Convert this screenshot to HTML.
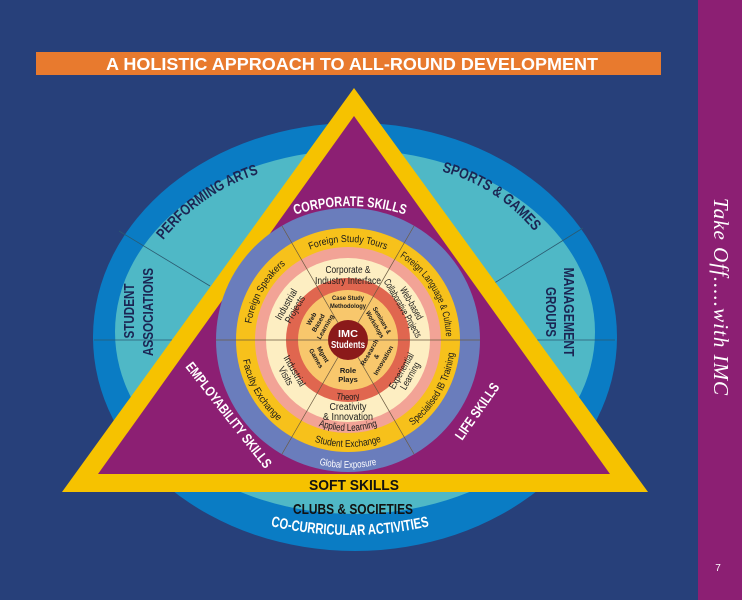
<!DOCTYPE html>
<html><head><meta charset="utf-8"><style>
html,body{margin:0;padding:0;background:#27407a;}
svg{display:block}
.n{font-family:"Liberation Sans",sans-serif;}
.b{font-family:"Liberation Sans",sans-serif;font-weight:bold;}
</style></head><body>
<svg width="742" height="600" viewBox="0 0 742 600" xmlns="http://www.w3.org/2000/svg">
<rect width="742" height="600" fill="#27407a"/>
<rect x="698" y="0" width="44" height="600" fill="#8c1f73"/>
<text transform="translate(714,297) rotate(90)" text-anchor="middle" font-family="Liberation Serif,serif" font-style="italic" font-size="21" fill="#fff" letter-spacing="1">Take  Off.....with  IMC</text>
<text x="718" y="571" font-family="Liberation Sans,sans-serif" font-size="10" fill="#fff" text-anchor="middle">7</text>

<rect x="36" y="52" width="625" height="23" fill="#e87a2e"/>
<text x="352" y="70" text-anchor="middle" class="b" font-size="17.5" fill="#fff" textLength="492" lengthAdjust="spacingAndGlyphs">A HOLISTIC APPROACH TO ALL-ROUND DEVELOPMENT</text>

<ellipse cx="355" cy="337" rx="262" ry="214" fill="#0a7cc4"/>
<ellipse cx="355" cy="332" rx="240" ry="182" fill="#4fb8c6"/>
<line x1="119" y1="231" x2="210" y2="286" stroke="#2b5a70" stroke-width="0.8"/>
<line x1="583" y1="228" x2="488" y2="287" stroke="#2b5a70" stroke-width="0.8"/>
<line x1="94" y1="340" x2="615" y2="340" stroke="#2b5a70" stroke-width="0.8"/>

<defs>
<path id="pa" d="M150,258 Q198,186 280,168"/>
<path id="sg" d="M425,168 Q498,180 545,245"/>
<path id="cs" d="M275,222 Q350,190 425,222"/>
<path id="cc" d="M240,518 Q350,552 460,518"/>
<path id="y0" d="M-49,-84.9 A98,98 0 0 1 49,-84.9"/>
<path id="y1" d="M49,-84.9 A98,98 0 0 1 98,0"/>
<path id="y5" d="M-98,0 A98,98 0 0 1 -49,-84.9"/>
<path id="y3" d="M-53.5,92.7 A107,107 0 0 0 53.5,92.7"/>
<path id="y2" d="M53.5,92.7 A107,107 0 0 0 107,0"/>
<path id="y4" d="M-107,0 A107,107 0 0 0 -53.5,92.7"/>
<path id="gl" d="M-64,110.8 A128,128 0 0 0 64,110.8"/>
<path id="al" d="M-45.5,78.8 A91,91 0 0 0 45.5,78.8"/>
<path id="th" d="M-30,52 A60,60 0 0 0 30,52"/>
</defs>
<text class="b" font-size="15" fill="#1b2553"><textPath href="#pa" startOffset="50%" text-anchor="middle" textLength="118" lengthAdjust="spacingAndGlyphs">PERFORMING ARTS</textPath></text>
<text class="b" font-size="15" fill="#1b2553"><textPath href="#sg" startOffset="50%" text-anchor="middle" textLength="112" lengthAdjust="spacingAndGlyphs">SPORTS &amp; GAMES</textPath></text>
<text transform="translate(134,311) rotate(-90)" text-anchor="middle" class="b" font-size="15" fill="#1b2553" textLength="55" lengthAdjust="spacingAndGlyphs">STUDENT</text>
<text transform="translate(153,312) rotate(-90)" text-anchor="middle" class="b" font-size="15" fill="#1b2553" textLength="88" lengthAdjust="spacingAndGlyphs">ASSOCIATIONS</text>
<text transform="translate(564,312) rotate(90)" text-anchor="middle" class="b" font-size="15" fill="#1b2553" textLength="89" lengthAdjust="spacingAndGlyphs">MANAGEMENT</text>
<text transform="translate(546,312) rotate(90)" text-anchor="middle" class="b" font-size="15" fill="#1b2553" textLength="50" lengthAdjust="spacingAndGlyphs">GROUPS</text>

<polygon points="354,88 62,492 648,492" fill="#f6c200"/>
<polygon points="354,116 98,474 610,474" fill="#8c1f73"/>
<text x="354" y="490" text-anchor="middle" class="b" font-size="15" fill="#111" textLength="90" lengthAdjust="spacingAndGlyphs">SOFT SKILLS</text>
<text x="353" y="514" text-anchor="middle" class="b" font-size="15" fill="#111" textLength="120" lengthAdjust="spacingAndGlyphs">CLUBS &amp; SOCIETIES</text>
<text class="b" font-size="15" fill="#fff"><textPath href="#cc" startOffset="50%" text-anchor="middle" textLength="160" lengthAdjust="spacingAndGlyphs">CO-CURRICULAR ACTIVITIES</textPath></text>
<text class="b" font-size="14" fill="#fff"><textPath href="#cs" startOffset="50%" text-anchor="middle" textLength="112" lengthAdjust="spacingAndGlyphs">CORPORATE SKILLS</textPath></text>
<text transform="translate(225,418) rotate(52)" text-anchor="middle" class="b" font-size="14" fill="#fff" textLength="130" lengthAdjust="spacingAndGlyphs">EMPLOYABILITY SKILLS</text>
<text transform="translate(481,414) rotate(-55)" text-anchor="middle" class="b" font-size="14" fill="#fff" textLength="66" lengthAdjust="spacingAndGlyphs">LIFE SKILLS</text>

<g transform="translate(348,340)">
<circle r="132" fill="#6a7dbc"/>
<circle r="112" fill="#f7c11b"/>
<circle r="93" fill="#f2a396"/>
<circle r="82" fill="#fdeec2"/>
<circle r="62" fill="#e0664f"/>
<circle r="50" fill="#f8c76c"/>
<g stroke="#6b5a40" stroke-width="0.7">
<line x1="-66" y1="-114" x2="66" y2="114"/>
<line x1="66" y1="-114" x2="-66" y2="114"/>
<line x1="-132" y1="0" x2="132" y2="0"/>
</g>
<circle r="20" fill="#8b1a1a"/>
<text y="-3" text-anchor="middle" class="b" font-size="10" fill="#fff" textLength="20" lengthAdjust="spacingAndGlyphs">IMC</text>
<text y="8" text-anchor="middle" class="b" font-size="10" fill="#fff" textLength="34" lengthAdjust="spacingAndGlyphs">Students</text>

<g class="n" font-size="10" fill="#1a1a1a">
<text><textPath href="#y0" startOffset="50%" text-anchor="middle" textLength="78" lengthAdjust="spacingAndGlyphs">Foreign Study Tours</textPath></text>
<text><textPath href="#y1" startOffset="50%" text-anchor="middle" textLength="96" lengthAdjust="spacingAndGlyphs">Foreign Language &amp; Culture</textPath></text>
<text><textPath href="#y5" startOffset="50%" text-anchor="middle" textLength="70" lengthAdjust="spacingAndGlyphs">Foreign Speakers</textPath></text>
<text><textPath href="#y2" startOffset="50%" text-anchor="middle" textLength="86" lengthAdjust="spacingAndGlyphs">Specialised IB Training</textPath></text>
<text><textPath href="#y4" startOffset="50%" text-anchor="middle" textLength="72" lengthAdjust="spacingAndGlyphs">Faculty Exchange</textPath></text>
<text><textPath href="#y3" startOffset="50%" text-anchor="middle" textLength="68" lengthAdjust="spacingAndGlyphs">Student Exchange</textPath></text>
<text fill="#fff"><textPath href="#gl" startOffset="50%" text-anchor="middle" textLength="58" lengthAdjust="spacingAndGlyphs">Global Exposure</textPath></text>
<text><textPath href="#al" startOffset="50%" text-anchor="middle" textLength="60" lengthAdjust="spacingAndGlyphs">Applied Learning</textPath></text>
<text font-size="9"><textPath href="#th" startOffset="50%" text-anchor="middle" textLength="24" lengthAdjust="spacingAndGlyphs">Theory</textPath></text>
</g>
<g class="n" font-size="10" fill="#1a1a1a" text-anchor="middle">
<text y="-67" textLength="45" lengthAdjust="spacingAndGlyphs">Corporate &amp;</text>
<text y="-56" textLength="66" lengthAdjust="spacingAndGlyphs">Industry Interface</text>
<text transform="rotate(60) translate(0,-70)" textLength="36" lengthAdjust="spacingAndGlyphs">Web-based</text>
<text transform="rotate(60) translate(0,-60)" textLength="66" lengthAdjust="spacingAndGlyphs">Collaborative Projects</text>
<text transform="rotate(-60) translate(0,-68)" textLength="34" lengthAdjust="spacingAndGlyphs">Industrial</text>
<text transform="rotate(-60) translate(0,-58)" textLength="30" lengthAdjust="spacingAndGlyphs">Projects</text>
<text transform="rotate(-60) translate(0,65)" textLength="40" lengthAdjust="spacingAndGlyphs">Experiential</text>
<text transform="rotate(-60) translate(0,75)" textLength="30" lengthAdjust="spacingAndGlyphs">Learning</text>
<text transform="rotate(60) translate(0,65)" textLength="34" lengthAdjust="spacingAndGlyphs">Industrial</text>
<text transform="rotate(60) translate(0,75)" textLength="20" lengthAdjust="spacingAndGlyphs">Visits</text>
<text y="70" textLength="37" lengthAdjust="spacingAndGlyphs">Creativity</text>
<text y="80" textLength="50" lengthAdjust="spacingAndGlyphs">&amp; Innovation</text>
</g>
<g class="b" font-size="6.5" fill="#1a1a1a" text-anchor="middle">
<text y="-40" textLength="32" lengthAdjust="spacingAndGlyphs">Case Study</text>
<text y="-32" textLength="36" lengthAdjust="spacingAndGlyphs">Methodology</text>
<text transform="rotate(60) translate(0,-37)" textLength="30" lengthAdjust="spacingAndGlyphs">Seminars &amp;</text>
<text transform="rotate(60) translate(0,-29)" textLength="30" lengthAdjust="spacingAndGlyphs">Workshops</text>
<text transform="rotate(-60) translate(0,-40)">Web</text>
<text transform="rotate(-60) translate(0,-32)">Based</text>
<text transform="rotate(-60) translate(0,-24)">Learning</text>
<text transform="rotate(-60) translate(0,27)">Research</text>
<text transform="rotate(-60) translate(0,35)">&amp;</text>
<text transform="rotate(-60) translate(0,43)">Innovation</text>
<text transform="rotate(60) translate(0,31)">Mgmt</text>
<text transform="rotate(60) translate(0,39)">Games</text>
<text y="33" font-size="7.5">Role</text>
<text y="42" font-size="7.5">Plays</text>
</g>
</g>
</svg>
</body></html>
